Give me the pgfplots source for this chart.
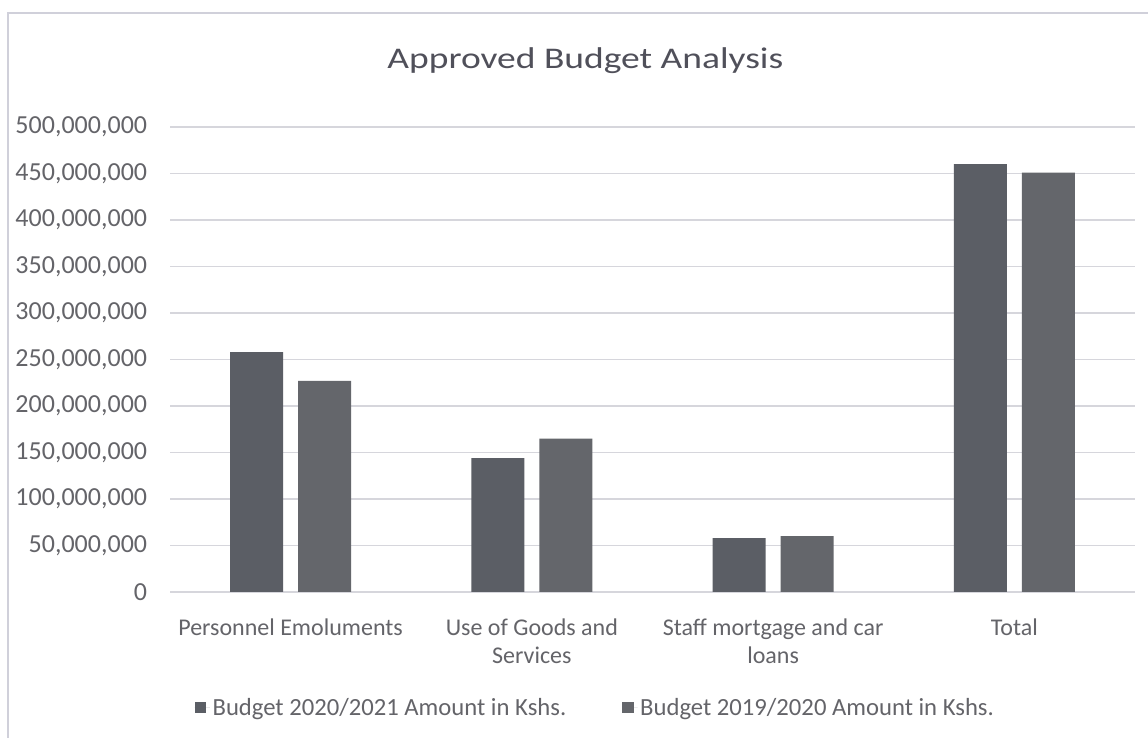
\documentclass[border=0pt]{standalone}
\usepackage{fontspec}
\setmainfont{Carlito}
\newfontfamily\titlefont{Carlito}[FakeStretch=1.25]
\usepackage{pgfplots}
\pgfplotsset{compat=1.18}
\definecolor{txt}{HTML}{646469}
\definecolor{ttl}{HTML}{50505A}
\definecolor{gridc}{HTML}{D6D6DC}
\definecolor{framec}{HTML}{D0D0DA}
\definecolor{barA}{HTML}{5B5E65}
\definecolor{barB}{HTML}{64666B}
\begin{document}
\begin{tikzpicture}
\useasboundingbox (0,0) rectangle (861pt,553.5pt);
\fill[white] (0,0) rectangle (861pt,553.5pt);
\draw[framec, line width=1pt] (6pt,0) -- (6pt,543.75pt) -- (861pt,543.75pt);
\begin{axis}[
  at={(127.5pt,109.5pt)}, anchor=south west,
  scale only axis, width=723.75pt, height=348.75pt,
  ybar=11.25pt, bar width=39.75pt,
  ymin=0, ymax=500000000, xmin=-0.5, xmax=3.5,
  ytick={0,50000000,...,500000000},
  scaled y ticks=false,
  /pgf/number format/.cd, fixed, precision=0, 1000 sep={,}, assume math mode=true,
  /pgfplots/.cd,
  xtick={0,1,2,3},
  xticklabels={Personnel Emoluments, {Use of Goods and\\Services}, {Staff mortgage and car\\loans}, Total},
  xticklabel style={align=center, anchor=north, inner sep=0pt, yshift=-16pt,
    font=\fontsize{18}{21}\selectfont, text=txt},
  yticklabel style={anchor=east, inner sep=0pt, xshift=-17pt,
    font=\fontsize{19.5}{22}\selectfont, text=txt},
  axis line style={draw=none},
  major tick style={draw=none},
  ymajorgrids, grid style={gridc, line width=0.9pt},
  legend style={at={(0.441,-0.249)}, anchor=center, draw=none, fill=none,
    legend columns=2, font=\fontsize{18.5}{21}\selectfont, text=txt,
    /tikz/every even column/.append style={column sep=40pt},
    inner sep=0pt, nodes={inner sep=2pt}},
  legend image code/.code={\fill[#1] (0pt,-4pt) rectangle (8.5pt,4.5pt); \path (0pt,0pt) -- (11.5pt,0pt);},
]
\addplot[fill=barA, draw=none] coordinates {(0,258000000) (1,144000000) (2,58000000) (3,460000000)};
\addplot[fill=barB, draw=none] coordinates {(0,227000000) (1,165000000) (2,60000000) (3,451000000)};
\legend{Budget 2020/2021 Amount in Kshs., Budget 2019/2020 Amount in Kshs.}
\end{axis}
\node[anchor=base, font=\titlefont\fontsize{22.5}{26}\selectfont, text=ttl] at (439pt,501.75pt) {Approved Budget Analysis};
\end{tikzpicture}
\end{document}
